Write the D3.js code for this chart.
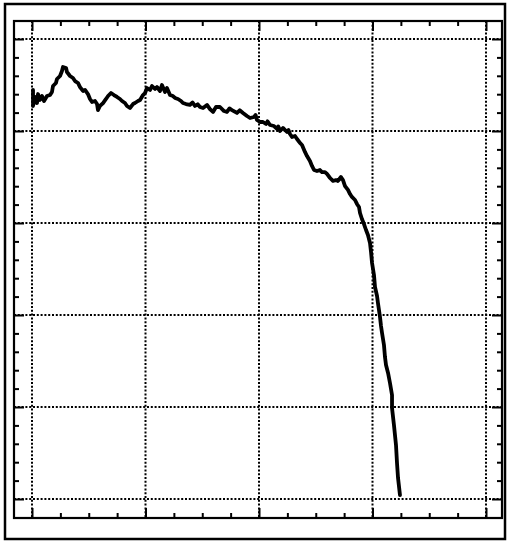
<!DOCTYPE html>
<html>
<head>
<meta charset="utf-8">
<script src="https://cdn.jsdelivr.net/npm/d3@7"></script>
<style>
  html, body { margin: 0; padding: 0; background: #fff; }
  svg { display: block; }
</style>
</head>
<body>
<svg id="chart" width="507" height="541"></svg>
<script>
// Horizontal positions of the trace samples
const xValues = [
  0.009, 0.009, 0.026, 0.044, 0.053, 0.070, 0.088, 0.106, 0.132, 0.159,
  0.176, 0.185, 0.211, 0.220, 0.247, 0.264, 0.273, 0.300, 0.308, 0.335,
  0.361, 0.379, 0.405, 0.423, 0.449, 0.467, 0.493, 0.511, 0.529, 0.555,
  0.573, 0.581, 0.599, 0.626, 0.652, 0.670, 0.696, 0.722, 0.749, 0.775,
  0.793, 0.819, 0.837, 0.863, 0.890, 0.907, 0.934, 0.952, 0.978, 0.996,
  1.013, 1.040, 1.057, 1.084, 1.101, 1.128, 1.145, 1.172, 1.189, 1.216,
  1.242, 1.260, 1.286, 1.313, 1.330, 1.357, 1.392, 1.415, 1.436, 1.460,
  1.480, 1.507, 1.542, 1.568, 1.595, 1.621, 1.656, 1.692, 1.718, 1.740,
  1.762, 1.806, 1.830, 1.859, 1.894, 1.921, 1.956, 1.970, 1.982, 2.009,
  2.035, 2.062, 2.075, 2.097, 2.132, 2.159, 2.170, 2.185, 2.211, 2.247,
  2.260, 2.273, 2.291, 2.317, 2.335, 2.361, 2.379, 2.405, 2.423, 2.449,
  2.467, 2.485, 2.511, 2.537, 2.555, 2.581, 2.599, 2.626, 2.652, 2.678,
  2.696, 2.722, 2.740, 2.758, 2.784, 2.802, 2.819, 2.846, 2.863, 2.881,
  2.890, 2.907, 2.925, 2.943, 2.960, 2.978, 2.987, 2.996, 3.013, 3.022,
  3.040, 3.048, 3.066, 3.075, 3.084, 3.101, 3.110, 3.119, 3.137, 3.154,
  3.172, 3.172, 3.189, 3.207, 3.216, 3.225, 3.242
];

// Vertical values of the trace samples
const yValues = [
  4.446, 4.272, 4.370, 4.304, 4.402, 4.337, 4.380, 4.326, 4.380, 4.391,
  4.424, 4.489, 4.522, 4.565, 4.598, 4.652, 4.696, 4.685, 4.641, 4.598,
  4.576, 4.543, 4.522, 4.478, 4.435, 4.446, 4.402, 4.348, 4.315, 4.326,
  4.293, 4.228, 4.272, 4.304, 4.348, 4.380, 4.413, 4.391, 4.370, 4.348,
  4.326, 4.304, 4.272, 4.250, 4.293, 4.304, 4.326, 4.337, 4.391, 4.413,
  4.467, 4.446, 4.489, 4.457, 4.478, 4.435, 4.500, 4.424, 4.467, 4.391,
  4.380, 4.359, 4.348, 4.326, 4.304, 4.293, 4.283, 4.310, 4.272, 4.290,
  4.261, 4.250, 4.283, 4.239, 4.207, 4.261, 4.261, 4.217, 4.207, 4.245,
  4.228, 4.196, 4.225, 4.196, 4.163, 4.141, 4.152, 4.175, 4.120, 4.098,
  4.098, 4.076, 4.105, 4.065, 4.054, 4.022, 4.050, 4.000, 4.033, 3.989,
  4.010, 3.967, 3.935, 3.946, 3.913, 3.870, 3.848, 3.772, 3.728, 3.674,
  3.620, 3.576, 3.565, 3.576, 3.554, 3.554, 3.533, 3.489, 3.457, 3.467,
  3.457, 3.500, 3.467, 3.402, 3.359, 3.315, 3.283, 3.250, 3.207, 3.174,
  3.109, 3.043, 2.989, 2.924, 2.870, 2.783, 2.685, 2.565, 2.435, 2.304,
  2.207, 2.130, 1.978, 1.880, 1.804, 1.674, 1.543, 1.457, 1.370, 1.261,
  1.130, 0.989, 0.804, 0.587, 0.391, 0.228, 0.043
];

// Major grid positions on each axis
const xMajorTicks = [0, 1, 2, 3, 4];
const yMajorTicks = [0, 1, 2, 3, 4, 5];

const svg = d3.select("#chart");

// Plot frame in pixels
const frame = { left: 14, top: 21, right: 502, bottom: 518 };

const x = d3.scaleLinear().domain([0, 4]).range([32, 486]);
const y = d3.scaleLinear().domain([0, 5]).range([499, 39]);

// Minor tick positions: quarter steps on x, fifth steps on y
const xMinor = d3.range(0, 4.001, 0.25).filter(v => !xMajorTicks.includes(+v.toFixed(2)));
const yMinor = d3.range(0, 5.001, 0.2).map(v => +v.toFixed(2)).filter(v => !yMajorTicks.includes(v));

// Outer border around the whole figure
svg.append("rect")
  .attr("x", 5).attr("y", 4)
  .attr("width", 500).attr("height", 535)
  .attr("fill", "none")
  .attr("stroke", "#000")
  .attr("stroke-width", 2.5);

// Dotted grid
const grid = svg.append("g")
  .attr("stroke", "#000")
  .attr("stroke-width", 2)
  .attr("stroke-dasharray", "2,1.8");

grid.selectAll("line.v").data(xMajorTicks).join("line")
  .attr("class", "v")
  .attr("x1", d => x(d)).attr("x2", d => x(d))
  .attr("y1", frame.top).attr("y2", frame.bottom);

grid.selectAll("line.h").data(yMajorTicks).join("line")
  .attr("class", "h")
  .attr("y1", d => y(d)).attr("y2", d => y(d))
  .attr("x1", frame.left).attr("x2", frame.right);

// Tick marks on all four sides, pointing inward
function ticks(axisFn, scale, values, size, transform) {
  const g = svg.append("g")
    .attr("transform", transform)
    .call(axisFn(scale).tickValues(values).tickSize(-size).tickFormat(""));
  g.select(".domain").remove();
  g.selectAll(".tick line").attr("stroke", "#000").attr("stroke-width", 2);
}

ticks(d3.axisBottom, x, xMajorTicks, 10, `translate(0,${frame.bottom})`);
ticks(d3.axisBottom, x, xMinor, 5, `translate(0,${frame.bottom})`);
ticks(d3.axisTop, x, xMajorTicks, 10, `translate(0,${frame.top})`);
ticks(d3.axisTop, x, xMinor, 5, `translate(0,${frame.top})`);
ticks(d3.axisLeft, y, yMajorTicks, 10, `translate(${frame.left},0)`);
ticks(d3.axisLeft, y, yMinor, 5, `translate(${frame.left},0)`);
ticks(d3.axisRight, y, yMajorTicks, 10, `translate(${frame.right},0)`);
ticks(d3.axisRight, y, yMinor, 5, `translate(${frame.right},0)`);

// Plot frame
svg.append("rect")
  .attr("x", frame.left).attr("y", frame.top)
  .attr("width", frame.right - frame.left)
  .attr("height", frame.bottom - frame.top)
  .attr("fill", "none")
  .attr("stroke", "#000")
  .attr("stroke-width", 2.2);

// The measured trace
const points = xValues.map((v, i) => [v, yValues[i]]);
const line = d3.line().x(d => x(d[0])).y(d => y(d[1]));

svg.append("path")
  .datum(points)
  .attr("d", line)
  .attr("fill", "none")
  .attr("stroke", "#000")
  .attr("stroke-width", 3.8)
  .attr("stroke-linejoin", "round")
  .attr("stroke-linecap", "round");
</script>
</body>
</html>
